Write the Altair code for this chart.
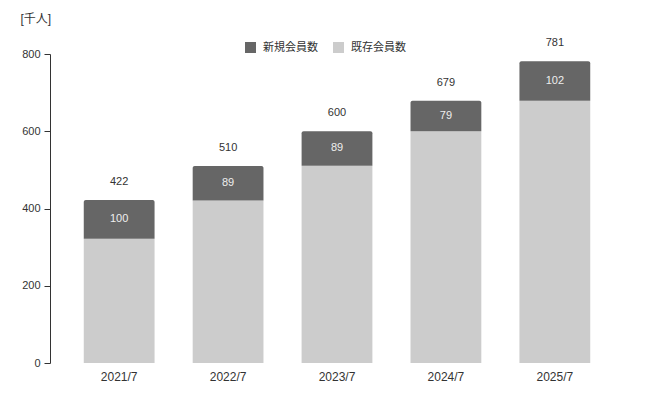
import altair as alt
import pandas as pd

periods = ["2021/7", "2022/7", "2023/7", "2024/7", "2025/7"]
existing = [322, 421, 511, 600, 679]
new = [100, 89, 89, 79, 102]
totals = [422, 510, 600, 679, 781]
series_names = ["新規会員数", "既存会員数"]
colors = ["#666666", "#cccccc"]
y_ticks = [0, 200, 400, 600, 800]

rows = []
for p, e, n, t in zip(periods, existing, new, totals):
    rows.append({"period": p, "series": series_names[1], "y0": 0, "y1": e, "value": e, "mid": e / 2, "total": t})
    rows.append({"period": p, "series": series_names[0], "y0": e, "y1": e + n, "value": n, "mid": e + n / 2, "total": t})
df = pd.DataFrame(rows)

FONT = "Liberation Sans, Noto Sans CJK JP, sans-serif"

x = alt.X("period:N", sort=periods, title=None,
          scale=alt.Scale(paddingInner=0.35, paddingOuter=0.31),
          axis=alt.Axis(labelAngle=0, domain=False, ticks=False, labelPadding=8,
                        labelFontSize=12, labelColor="#333333", labelFont=FONT))
yscale = alt.Scale(domain=[0, 800])
yaxis = alt.Axis(values=y_ticks, grid=False, domainColor="#333333", tickColor="#333333",
                 tickSize=6, labelPadding=4, labelFontSize=11, labelColor="#333333",
                 labelFont=FONT, title="[千人]", titleAngle=0, titleX=-30, titleY=-36,
                 titleAlign="left", titleBaseline="middle", titleFontWeight="normal",
                 titleFontSize=12, titleColor="#333333", titleFont=FONT)

color = alt.Color("series:N", scale=alt.Scale(domain=series_names, range=colors),
                  legend=alt.Legend(orient="none", legendX=195, legendY=-12, direction="horizontal",
                                    title=None, symbolType="square", symbolSize=121,
                                    symbolStrokeWidth=0, symbolOpacity=1,
                                    labelFontSize=11, labelColor="#333333", labelFont=FONT,
                                    labelOffset=7, columnPadding=15, padding=0))

base = alt.Chart(df)

bottom = base.transform_filter(alt.datum.series == series_names[1]).mark_bar().encode(
    x=x, y=alt.Y("y0:Q", scale=yscale, axis=yaxis), y2="y1:Q", color=color)
top = base.transform_filter(alt.datum.series == series_names[0]).mark_bar(
    cornerRadiusTopLeft=2, cornerRadiusTopRight=2).encode(
    x=x, y=alt.Y("y0:Q", scale=yscale, axis=yaxis), y2="y1:Q", color=color)

inner = base.transform_filter(alt.datum.series == series_names[0]).mark_text(
    color="#eeeeee", fontSize=11, font=FONT, baseline="middle").encode(
    x=x, y=alt.Y("mid:Q", scale=yscale), text="value:Q")
tot = base.transform_filter(alt.datum.series == series_names[0]).mark_text(
    color="#333333", fontSize=11, font=FONT, baseline="middle", dy=-18).encode(
    x=x, y=alt.Y("total:Q", scale=yscale), text="total:Q")

chart = alt.layer(bottom, top, inner, tot).properties(
    width=574, height=309,
    background="white",
    autosize=alt.AutoSizeParams(type="none"),
    padding={"left": 42, "top": 46, "right": 13, "bottom": 43},
).configure_view(stroke="transparent", strokeWidth=0)

chart.save("out.html", embed_options={"renderer": "svg", "actions": False})
